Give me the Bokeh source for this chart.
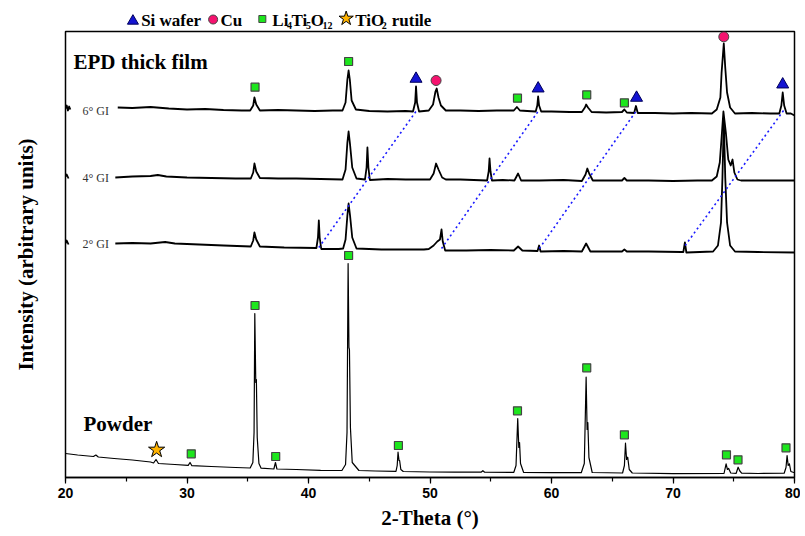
import math
from bokeh.plotting import figure
from bokeh.models import Range1d, SingleIntervalTicker, FixedTicker, Label
from bokeh.layouts import column
from bokeh.embed import file_html
from bokeh.resources import INLINE
from bokeh.core.properties import value

NAN = float("nan")

# ---------------- data (2-theta in degrees, intensity in arbitrary units) ----------------
# 6 deg grazing incidence pattern (stacked offset ~367)
gi6_pattern = [
    (20.0, 369), (20.1, 372), (20.2, 367), (20.3, 371), (20.4, 368), (NAN, NAN),
    (24.3, 370), (25.5, 369.5), (27.0, 370.5), (28.5, 369), (30.0, 368), (31.5, 368.5),
    (33.0, 367.5), (34.5, 367), (35.2, 367), (35.45, 372), (35.55, 380), (35.7, 373),
    (36.0, 367), (37.5, 367.5), (39.0, 367), (40.5, 366.5), (42.0, 367), (42.8, 367),
    (43.05, 375), (43.2, 398), (43.3, 407), (43.4, 398), (43.55, 377), (43.9, 368),
    (45.0, 366.5), (46.5, 366), (48.0, 366.5), (48.6, 366), (48.78, 375), (48.85, 391),
    (48.93, 375), (49.1, 366), (49.5, 366.5), (49.9, 367), (50.25, 373), (50.45, 386),
    (50.55, 389), (50.7, 380), (50.9, 372), (51.3, 367), (52.5, 367), (54.0, 366.5),
    (55.5, 367), (56.9, 367), (57.15, 370.5), (57.4, 367), (58.0, 366.5), (58.7, 366),
    (58.83, 372), (58.9, 381), (58.98, 372), (59.15, 366), (60.0, 366), (61.5, 365.5),
    (62.5, 365.5), (62.75, 370), (62.85, 373), (63.0, 370), (63.3, 365.5), (64.5, 365),
    (65.8, 365.5), (66.0, 368), (66.2, 365), (66.8, 364.5), (66.95, 371.5), (67.1, 364.5),
    (68.5, 364.5), (70.0, 364), (71.5, 364.5), (73.2, 364), (73.6, 368), (73.9, 380),
    (74.0, 405), (74.18, 434), (74.3, 410), (74.45, 385), (74.7, 370), (75.1, 364),
    (76.5, 364.5), (78.0, 364), (78.75, 364), (78.92, 372), (79.03, 385), (79.15, 372),
    (79.35, 364), (79.7, 364), (80.0, 362),
]

# 4 deg grazing incidence pattern (stacked offset ~299)
gi4_pattern = [
    (20.0, 301), (20.1, 303), (20.25, 299), (NAN, NAN),
    (24.1, 300), (25.5, 301), (27.0, 301.5), (27.6, 302.5), (28.3, 301), (30.0, 300),
    (32.0, 299.5), (34.0, 299), (35.25, 299), (35.45, 305), (35.55, 314), (35.7, 306),
    (36.0, 299.5), (37.5, 299), (39.0, 299), (41.0, 298.5), (42.8, 298), (43.05, 308),
    (43.2, 335), (43.3, 346), (43.42, 333), (43.6, 310), (43.95, 299), (44.65, 298),
    (44.78, 310), (44.85, 330), (44.93, 310), (45.05, 297.5), (46.5, 298.5), (48.0, 298),
    (50.0, 298), (50.3, 304), (50.5, 314), (50.7, 308), (51.0, 300), (51.3, 298),
    (52.5, 298), (54.7, 297), (54.83, 306), (54.9, 319), (54.98, 306), (55.1, 297),
    (56.0, 297.5), (56.95, 297), (57.25, 304), (57.5, 297), (59.0, 297), (61.0, 297.5),
    (62.5, 296.5), (62.8, 303), (62.95, 309), (63.1, 304), (63.4, 297), (64.5, 297),
    (65.8, 297), (66.0, 299.5), (66.2, 297), (68.0, 297), (70.0, 296.5), (72.0, 297),
    (73.2, 297), (73.6, 301), (73.85, 315), (74.0, 340), (74.15, 366), (74.35, 345),
    (74.55, 318), (74.75, 312), (74.9, 318), (75.05, 305), (75.3, 298), (75.6, 297),
    (77.0, 297), (78.5, 297), (80.0, 297),
]

# 2 deg grazing incidence pattern (stacked offset ~230)
gi2_pattern = [
    (20.0, 234), (20.1, 237), (20.25, 233), (NAN, NAN),
    (24.1, 234), (25.5, 234.5), (27.0, 234), (28.2, 235.5), (29.0, 234), (31.0, 233),
    (33.0, 232), (35.25, 231), (35.45, 237), (35.55, 245), (35.7, 238), (36.0, 231),
    (38.0, 230), (40.65, 229.5), (40.78, 240), (40.85, 257), (40.92, 240), (41.05, 228.5),
    (42.5, 228.5), (42.85, 229), (43.05, 238), (43.2, 262), (43.3, 274), (43.42, 262),
    (43.6, 240), (43.95, 229), (46.0, 228), (49.5, 228), (49.9, 228.5), (50.3, 232),
    (50.6, 236), (50.82, 238), (50.95, 248), (51.05, 236), (51.25, 227), (53.0, 227),
    (55.0, 227.5), (56.9, 227), (57.25, 231), (57.6, 227), (58.85, 226.5), (58.98, 232),
    (59.1, 226), (61.0, 226.5), (62.5, 226), (62.85, 234), (63.2, 226), (65.8, 226),
    (66.0, 228), (66.2, 226), (68.0, 226), (70.7, 225.5), (70.85, 225.5), (70.98, 235),
    (71.1, 225), (73.3, 226), (73.7, 232), (73.95, 255), (74.07, 300), (74.18, 359),
    (74.3, 300), (74.45, 255), (74.7, 232), (75.1, 226), (77.0, 225.5), (80.0, 225),
]

# powder pattern
powder_pattern = [
    (20.0, 24), (21.0, 22.5), (22.3, 21), (22.5, 22.5), (22.7, 20.5), (24.0, 19),
    (25.5, 17.5), (27.0, 15.5), (27.25, 14.5), (27.45, 18), (27.65, 14), (29.0, 13),
    (30.1, 12.2), (30.25, 15), (30.4, 11.8), (32.0, 11), (34.0, 10), (35.2, 9.5),
    (35.42, 15), (35.52, 45), (35.58, 164), (35.66, 95), (35.71, 98), (35.78, 40),
    (35.92, 14), (36.1, 9.3), (37.15, 8.5), (37.28, 15), (37.4, 8.5), (39.0, 8),
    (41.0, 7.2), (42.75, 7), (43.05, 13), (43.17, 45), (43.26, 214), (43.33, 130),
    (43.37, 128), (43.45, 50), (43.6, 15), (44.15, 7), (45.5, 6.5), (47.2, 6.2),
    (47.3, 12), (47.37, 25.3), (47.45, 17), (47.5, 17), (47.6, 8), (47.8, 6),
    (50.0, 5.5), (52.0, 5.3), (54.2, 5.3), (54.35, 6.8), (54.5, 5.3), (56.9, 5.2),
    (57.08, 12), (57.22, 59), (57.31, 30), (57.37, 35), (57.45, 14), (57.7, 5.2),
    (60.0, 4.8), (62.45, 4.8), (62.7, 14), (62.85, 100.3), (62.93, 48), (62.99, 55),
    (63.08, 20), (63.35, 5), (65.85, 4.5), (66.0, 12), (66.09, 34.3), (66.18, 18),
    (66.27, 20.3), (66.4, 8), (66.65, 4.5), (70.0, 3.8), (74.2, 4), (74.37, 13.7),
    (74.48, 8), (74.58, 9), (74.75, 4.5), (75.2, 4.2), (75.36, 10.3), (75.5, 6.5),
    (75.65, 4.3), (77.0, 4.0), (79.15, 4.3), (79.3, 10), (79.39, 22), (79.48, 12),
    (79.58, 13.7), (79.7, 6), (80.0, 4.8),
]

# phase markers
si_2theta = [48.85, 58.9, 67.0, 79.03]
si_int = [398.7, 389, 379.7, 393]
cu_2theta = [50.5, 74.18]
cu_int = [397, 440.7]
lto_2theta = [35.6, 43.3, 57.2, 62.9, 66.0,
              30.35, 35.6, 37.3, 43.3, 47.4, 57.2, 62.9, 66.0, 74.4, 75.35, 79.3]
lto_int = [390.3, 416, 379.3, 382.7, 374.7,
           23.7, 172, 21, 222, 32, 66.7, 109.7, 42.7, 22.7, 17.7, 29.7]
rutile_2theta = [27.5]
rutile_int = [27.7]

# Si peak shift guide lines (2 deg GI -> 6 deg GI)
guide_start_2theta = [40.85, 50.95, 59.0, 71.0]
guide_start_int = [230, 229, 229, 232]
guide_end_2theta = [48.9, 58.95, 67.0, 79.1]
guide_end_int = [367, 367, 367, 367]

trace_labels = ["6\u00b0 GI", "4\u00b0 GI", "2\u00b0 GI"]
trace_label_int = [367, 300, 234]
x_ticks_interval = 10

# ---------------- styling ----------------
SERIF = "Liberation Serif"
SANS = "Liberation Sans"
LTO_FILL, LTO_LINE = "#1de61d", "#444444"
SI_FILL, SI_LINE = "#1414d2", "#00005a"
CU_FILL, CU_LINE = "#f5136f", "#444444"
TI_FILL, TI_LINE = "#ffb300", "#000000"


def unzip(pattern):
    return [a for a, _ in pattern], [b for _, b in pattern]


p = figure(width=800, height=504, x_range=Range1d(20, 80), y_range=Range1d(0, 446),
           output_backend="svg", toolbar_location=None,
           min_border_left=65, min_border_right=6, min_border_top=1, min_border_bottom=57)
p.grid.visible = False
p.outline_line_color = "black"
p.outline_line_width = 1.5
p.outline_line_alpha = 1.0
p.background_fill_color = "white"
p.border_fill_color = "white"

xa = p.xaxis[0]
xa.ticker = SingleIntervalTicker(interval=x_ticks_interval, num_minor_ticks=2)
xa.major_tick_out = 6
xa.major_tick_in = 0
xa.minor_tick_out = 4
xa.minor_tick_in = 0
xa.axis_line_width = 1.5
xa.major_tick_line_width = 1.2
xa.minor_tick_line_width = 1.2
xa.major_label_text_font = SANS
xa.major_label_text_font_style = "bold"
xa.major_label_text_font_size = "14px"
xa.major_label_text_color = "black"
xa.major_label_standoff = 4
xa.axis_label = "2-Theta (\u00b0)"
xa.axis_label_text_font = SERIF
xa.axis_label_text_font_style = "bold"
xa.axis_label_text_font_size = "21px"
xa.axis_label_text_color = "black"
xa.axis_label_standoff = 5

ya = p.yaxis[0]
ya.ticker = FixedTicker(ticks=[])
ya.axis_line_color = None
ya.major_tick_line_color = None
ya.minor_tick_line_color = None
ya.major_tick_out = 0
ya.major_tick_in = 0
ya.minor_tick_out = 0
ya.minor_tick_in = 0
ya.major_label_standoff = 0
ya.axis_label = "Intensity (arbitrary units)"
ya.axis_label_text_font = SERIF
ya.axis_label_text_font_style = "bold"
ya.axis_label_text_font_size = "21px"
ya.axis_label_text_color = "black"
ya.axis_label_standoff = 28

for pat, lw in ((gi6_pattern, 1.8), (gi4_pattern, 1.8), (gi2_pattern, 1.8), (powder_pattern, 1.2)):
    xs, ys = unzip(pat)
    p.line(xs, ys, line_color="black", line_width=lw, line_join="round")

p.segment(x0=guide_start_2theta, y0=guide_start_int, x1=guide_end_2theta, y1=guide_end_int,
          line_color="#1a1aff", line_width=1.6, line_dash="2 3")

p.scatter(lto_2theta, lto_int, marker="square", size=8, fill_color=LTO_FILL,
          line_color=LTO_LINE, line_width=1.2)
p.scatter(si_2theta, si_int, marker="triangle", size=12, fill_color=SI_FILL,
          line_color=SI_LINE, line_width=1)
p.scatter(cu_2theta, cu_int, marker="circle", size=10, fill_color=CU_FILL,
          line_color=CU_LINE, line_width=1)
p.scatter(rutile_2theta, rutile_int, marker="star", size=17, fill_color=TI_FILL,
          line_color=TI_LINE, line_width=1)

p.text(x=[21.4] * 3, y=trace_label_int, text=trace_labels, text_font=value(SERIF),
       text_font_size="12px", text_color="#333333", text_baseline="middle")

p.add_layout(Label(x=20.66, y=404, text="EPD thick film", text_font=SERIF,
                   text_font_style="bold", text_font_size="21px", text_color="black"))
p.add_layout(Label(x=21.48, y=42, text="Powder", text_font=SERIF,
                   text_font_style="bold", text_font_size="21px", text_color="black"))

# ---------------- legend strip above the frame ----------------
leg = figure(width=800, height=30, x_range=Range1d(0, 800), y_range=Range1d(0, 30),
             output_backend="svg", toolbar_location=None, min_border=0)
leg.axis.visible = False
leg.grid.visible = False
leg.outline_line_color = None
leg.background_fill_color = "white"
leg.border_fill_color = "white"

leg.scatter([74], [9.5], marker="triangle", size=11, fill_color=SI_FILL, line_color=SI_LINE)
leg.scatter([162], [11], marker="circle", size=9, fill_color=CU_FILL, line_color=CU_LINE)
leg.scatter([216], [11.5], marker="square", size=7, fill_color=LTO_FILL, line_color=LTO_LINE)
leg.scatter([308], [12], marker="star", size=15, fill_color=TI_FILL, line_color=TI_LINE)

main_txt = dict(text_font=value(SERIF), text_font_style="bold", text_font_size="17px",
                text_color="black", text_baseline="middle")
sub_txt = dict(text_font=value(SERIF), text_font_style="bold", text_font_size="10px",
               text_color="black", text_baseline="middle")
leg.text(x=[83, 170, 227, 248, 269, 318, 358], y=[10] * 7,
         text=["Si wafer", "Cu", "Li", "Ti", "O", "TiO", "rutile"], **main_txt)
leg.text(x=[243, 264, 282, 347], y=[5] * 4, text=["4", "5", "12", "2"], **sub_txt)

layout = column(leg, p, spacing=0)
open("out.html", "w").write(file_html(layout, INLINE))
